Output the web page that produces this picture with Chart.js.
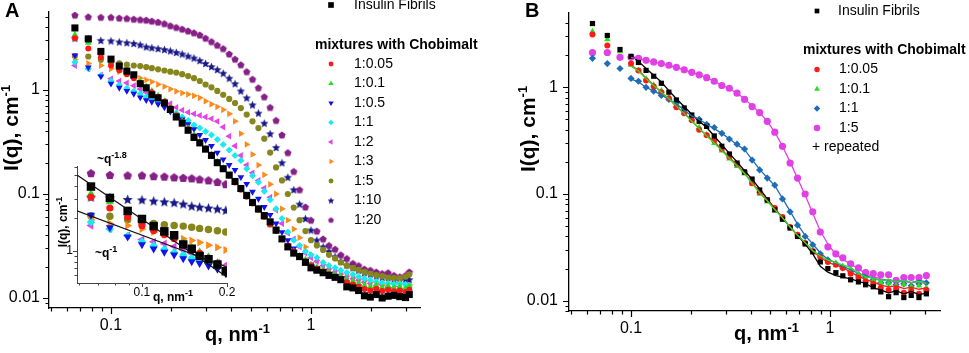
<!DOCTYPE html>
<html>
<head>
<meta charset="utf-8">
<title>SAXS of insulin fibrils and mixtures with Chobimalt</title>
<script src="https://cdn.jsdelivr.net/npm/chart.js@4.4.1/dist/chart.umd.min.js"></script>
<style>
  html, body { margin: 0; padding: 0; background: #ffffff; }
  body { width: 969px; height: 353px; position: relative; overflow: hidden; }
  canvas { position: absolute; left: 0; top: 0; }
</style>
</head>
<body>
<canvas id="chartA" width="969" height="353"></canvas>
<canvas id="chartInset" width="969" height="353"></canvas>
<canvas id="chartB" width="969" height="353"></canvas>
<script>
// ---------------- DATA: panel A (q in nm^-1, I(q) in cm^-1) ----------------
const Q_A = [0.066,0.077,0.089,0.1,0.11,0.12,0.13,0.14,0.15,0.16,
  0.172,0.185,0.198,0.212,0.227,0.243,0.26,0.278,0.297,0.318,
  0.34,0.364,0.39,0.417,0.446,0.477,0.51,0.546,0.584,0.625,
  0.669,0.716,0.766,0.82,0.877,0.938,1.0,1.07,1.15,1.23,
  1.32,1.41,1.51,1.62,1.73,1.85,1.98,2.12,2.27,2.43,
  2.6,2.78,2.97,3.1];
const A_FIBRILS = [3.95,3.1,2.35,1.98,1.7,1.52,1.4,1.15,1.05,0.9,
  0.84,0.75,0.65,0.55,0.48,0.41,0.35,0.31,0.27,0.235,
  0.2,0.175,0.152,0.132,0.113,0.097,0.083,0.072,0.062,0.054,
  0.045,0.037,0.031,0.027,0.025,0.022,0.0195,0.0185,0.0175,0.0165,
  0.0158,0.015,0.0128,0.0125,0.0118,0.0105,0.0102,0.0108,0.01,0.0104,
  0.0106,0.0103,0.0101,0.0108];
const A_R0_05 = [3.15,2.5,2.06,1.72,1.55,1.42,1.3,1.16,1.05,0.95,
  0.86,0.77,0.67,0.57,0.49,0.42,0.36,0.315,0.272,0.236,
  0.2,0.175,0.15,0.129,0.11,0.094,0.081,0.07,0.06,0.051,
  0.044,0.037,0.032,0.028,0.025,0.0225,0.0205,0.0192,0.018,0.017,
  0.016,0.015,0.0142,0.0135,0.0128,0.0122,0.0118,0.0122,0.0117,0.012,
  0.0116,0.0118,0.0114,0.012];
const A_R0_1 = [3.4,2.85,2.25,1.85,1.6,1.45,1.35,1.2,1.08,0.98,
  0.88,0.78,0.68,0.58,0.5,0.43,0.37,0.32,0.275,0.24,
  0.205,0.178,0.153,0.131,0.11,0.094,0.08,0.069,0.059,0.05,
  0.043,0.036,0.031,0.028,0.0255,0.0235,0.021,0.0198,0.0188,0.0178,
  0.0168,0.016,0.015,0.0145,0.0138,0.0132,0.0128,0.0132,0.0126,0.013,
  0.0125,0.0128,0.0124,0.013];
const A_R0_5 = [2.15,1.65,1.35,1.15,1.05,0.98,0.92,0.85,0.8,0.77,
  0.73,0.68,0.62,0.57,0.52,0.47,0.42,0.37,0.33,0.29,
  0.25,0.215,0.19,0.17,0.145,0.125,0.105,0.09,0.075,0.063,
  0.052,0.043,0.036,0.03,0.026,0.023,0.021,0.0195,0.018,0.017,
  0.0162,0.0152,0.0142,0.0136,0.013,0.0122,0.0118,0.0122,0.0115,0.0118,
  0.0113,0.0116,0.0112,0.0115];
const A_R1 = [1.85,1.6,1.38,1.22,1.12,1.04,0.97,0.92,0.86,0.82,
  0.77,0.72,0.66,0.6,0.55,0.51,0.46,0.43,0.4,0.37,
  0.335,0.3,0.265,0.235,0.21,0.175,0.15,0.13,0.106,0.088,
  0.072,0.058,0.043,0.036,0.032,0.028,0.026,0.0245,0.022,0.0205,
  0.0195,0.0185,0.0176,0.0168,0.016,0.0153,0.0148,0.0143,0.014,0.0138,
  0.0136,0.0137,0.0135,0.0132];
const A_R2 = [1.72,1.6,1.39,1.28,1.22,1.17,1.1,1.02,0.95,0.9,
  0.84,0.78,0.74,0.68,0.64,0.61,0.59,0.57,0.55,0.53,
  0.5,0.44,0.36,0.29,0.235,0.19,0.16,0.135,0.114,0.093,
  0.07,0.052,0.042,0.037,0.031,0.027,0.0245,0.0225,0.0205,0.019,
  0.0178,0.0165,0.016,0.0153,0.0148,0.0142,0.0138,0.0132,0.0134,0.013,
  0.0125,0.0128,0.0122,0.0118];
const A_R3 = [1.95,1.8,1.72,1.6,1.5,1.42,1.36,1.3,1.25,1.2,
  1.13,1.08,1.02,0.97,0.935,0.91,0.88,0.84,0.78,0.73,
  0.69,0.645,0.59,0.5,0.38,0.3,0.24,0.19,0.153,0.124,
  0.1,0.072,0.056,0.046,0.038,0.031,0.026,0.023,0.021,0.019,
  0.0182,0.017,0.0162,0.0156,0.015,0.0146,0.014,0.0137,0.0133,0.0127,
  0.013,0.0135,0.013,0.0134];
const A_R5 = [2.12,2.1,1.95,1.88,1.8,1.75,1.72,1.7,1.66,1.62,
  1.58,1.54,1.5,1.47,1.42,1.36,1.3,1.22,1.13,1.06,
  0.98,0.9,0.82,0.75,0.67,0.58,0.5,0.43,0.34,0.25,
  0.18,0.135,0.1,0.074,0.056,0.044,0.036,0.032,0.029,0.026,
  0.024,0.022,0.0205,0.0195,0.0186,0.0178,0.0172,0.0166,0.0162,0.0157,
  0.0156,0.0155,0.016,0.0168];
const A_R10 = [3.15,3.1,3.0,2.97,2.9,2.85,2.8,2.72,2.6,2.55,
  2.5,2.45,2.38,2.3,2.22,2.12,2.03,1.92,1.8,1.68,
  1.57,1.45,1.3,1.15,0.98,0.84,0.72,0.6,0.48,0.38,
  0.28,0.2,0.145,0.11,0.08,0.058,0.045,0.036,0.031,0.028,
  0.025,0.0225,0.0207,0.0195,0.0185,0.0175,0.017,0.0163,0.0158,0.0156,
  0.015,0.0148,0.0152,0.015];
const A_R20 = [5.25,5.05,5.0,5.0,4.92,4.88,4.8,4.75,4.7,4.6,
  4.5,4.35,4.15,4.0,3.85,3.7,3.55,3.38,3.15,2.92,
  2.7,2.5,2.22,1.98,1.75,1.5,1.27,1.05,0.86,0.68,
  0.51,0.37,0.25,0.165,0.11,0.075,0.056,0.044,0.037,0.032,
  0.0295,0.026,0.024,0.0215,0.0205,0.019,0.0185,0.0178,0.0172,0.0175,
  0.0165,0.016,0.0165,0.0178];

// inset power-law guide lines (end points)
const FIT_Q = [0.0589, 0.2];
const FIT_Q18 = [5.05, 0.574];   // ~q^-1.8
const FIT_Q1 = [2.35, 0.711];    // ~q^-1

// ---------------- DATA: panel B ----------------
const Q_B = [0.064,0.076,0.088,0.1,0.109,0.119,0.13,0.142,0.155,0.169,
  0.185,0.202,0.22,0.24,0.262,0.286,0.312,0.341,0.372,0.406,
  0.443,0.484,0.528,0.577,0.63,0.687,0.75,0.819,0.894,0.976,
  1.07,1.16,1.27,1.39,1.51,1.65,1.8,1.97,2.15,2.35,
  2.56,2.8,3.05];
const B_FIBRILS = [3.96,3.06,2.26,1.95,1.71,1.44,1.27,1.09,0.9,0.76,
  0.64,0.55,0.48,0.43,0.35,0.28,0.237,0.195,0.161,0.138,
  0.109,0.088,0.071,0.058,0.048,0.04,0.034,0.0287,0.0231,0.02,
  0.0183,0.0171,0.0157,0.015,0.0141,0.0135,0.0121,0.0109,0.0119,0.0107,
  0.0112,0.0107,0.0116];
const B_R0_05 = [3.13,2.47,null,1.67,1.44,1.16,1.02,0.9,0.79,0.65,
  0.57,0.49,0.4,0.356,0.318,0.264,0.222,0.19,0.161,0.126,
  0.104,0.088,0.074,0.0608,0.049,0.0414,0.0348,0.0293,0.0258,0.0231,
  0.0217,0.0203,0.0179,0.0165,0.0151,0.0144,0.0132,0.0126,0.0129,0.0119,
  0.0124,0.0116,0.0126];
const B_R0_1 = [3.33,2.81,2.17,1.62,1.45,1.2,1.05,0.93,0.8,0.68,
  0.58,0.5,0.42,0.36,0.3,0.255,0.215,0.182,0.155,0.125,
  0.1,0.085,0.07,0.06,0.049,0.041,0.035,0.0295,0.026,0.0235,
  0.0225,0.021,0.0195,0.0175,0.016,0.0155,0.0148,0.0145,0.0138,0.0142,
  0.0135,0.0138,0.0132];
const B_R1 = [1.87,1.67,1.5,1.21,1.14,1.0,0.92,0.84,0.77,0.71,
  0.6,0.525,0.502,0.45,0.42,0.37,0.327,0.293,0.264,0.208,
  0.168,0.141,0.121,0.09,0.068,0.051,0.04,0.0334,0.0275,0.0241,
  0.0222,0.0203,0.0187,0.0175,0.0168,0.0157,0.0147,0.0147,0.0141,0.0144,
  0.0138,0.0144,0.0147];
const B_R5 = [2.12,2.12,1.91,1.91,1.87,1.79,1.73,1.67,1.61,1.54,
  1.46,1.38,1.31,1.23,1.14,1.04,0.98,0.88,0.77,0.66,
  0.58,0.48,0.38,0.28,0.195,0.141,0.1,0.068,0.044,0.032,
  0.0275,0.0252,0.0222,0.0203,0.0183,0.0179,0.0175,0.0175,0.0155,0.0165,
  0.0165,0.0165,0.0172];
// repeated measurements (drawn as lines)
const B_REP_FIBRILS = [null,null,null,2.0,1.75,1.5,1.3,1.12,0.93,0.78,
  0.66,0.56,0.48,0.42,0.35,0.29,0.24,0.2,0.165,0.138,
  0.112,0.09,0.073,0.06,0.049,0.041,0.034,0.0275,0.021,0.0185,
  0.0172,0.0166,0.016,0.0152,0.0145,0.0132,0.0126,0.0118,0.0124,0.0116,
  0.0122,0.0114,0.0118];
const B_REP_R0_05 = [null,null,null,1.6,1.45,1.22,1.05,0.9,0.78,0.66,
  0.57,0.49,0.41,0.355,0.31,0.26,0.22,0.188,0.158,0.128,
  0.105,0.087,0.073,0.06,0.049,0.041,0.035,0.029,0.0255,0.0228,
  0.0215,0.0205,0.0185,0.017,0.0158,0.015,0.014,0.0135,0.0138,0.013,
  0.0134,0.0128,0.0132];
const B_REP_R0_1 = [null,null,null,1.58,1.42,1.2,1.04,0.9,0.78,0.67,
  0.57,0.48,0.41,0.35,0.3,0.255,0.215,0.183,0.155,0.126,
  0.102,0.086,0.071,0.06,0.049,0.041,0.035,0.0295,0.0262,0.024,
  0.0228,0.0215,0.0205,0.018,0.0168,0.0162,0.0155,0.0158,0.015,0.0155,
  0.0148,0.0152,0.0145];
const B_REP_R1 = [null,null,null,1.2,1.12,1.0,0.92,0.85,0.77,0.7,
  0.61,0.54,0.5,0.45,0.41,0.37,0.33,0.29,0.26,0.21,
  0.17,0.142,0.12,0.091,0.069,0.052,0.041,0.034,0.028,0.0245,
  0.0225,0.021,0.0195,0.018,0.0172,0.0162,0.0155,0.0158,0.015,0.0156,
  0.0148,0.0155,0.015];
const B_REP_R5 = [null,null,null,1.9,1.86,1.8,1.73,1.66,1.6,1.53,
  1.46,1.38,1.31,1.23,1.14,1.05,0.97,0.88,0.78,0.67,
  0.58,0.48,0.38,0.28,0.2,0.14,0.098,0.066,0.045,0.034,
  0.027,0.0245,0.022,0.02,0.0178,0.0168,0.016,0.0155,0.015,0.0152,
  0.0147,0.015,0.0145];

// tick labels
const A_X_TICKS = [0.1, 1];
const A_Y_TICKS = [0.01, 0.1, 1];
const INSET_X_TICKS = [0.1, 0.2];
const INSET_Y_TICKS = [1];
const B_X_TICKS = [0.1, 1];
const B_Y_TICKS = [0.01, 0.1, 1];

// ---------------- helpers ----------------
const FF = "'Liberation Sans', Arial, Helvetica, sans-serif";
Chart.defaults.font.family = FF;
Chart.defaults.color = '#000';

const pairs = (q, v) => q.map((x, i) => ({ x: x, y: v[i] })).filter(p => p.y !== null && p.y !== undefined);

function makeShape(color, r, kind) {
  const s = Math.ceil(r * 2) + 2;
  const c = document.createElement('canvas');
  c.width = s; c.height = s;
  const g = c.getContext('2d');
  g.fillStyle = color;
  g.beginPath();
  const n = kind === 'star' ? 10 : 5;
  for (let i = 0; i < n; i++) {
    const a = -Math.PI / 2 + i * 2 * Math.PI / n;
    const rr = kind === 'star' ? (i % 2 === 0 ? r : r * 0.45) : r;
    const px = s / 2 + rr * Math.cos(a), py = s / 2 + 0.4 + rr * Math.sin(a);
    if (i === 0) g.moveTo(px, py); else g.lineTo(px, py);
  }
  g.closePath();
  g.fill();
  return c;
}

function styleOf(st, k) {
  return st.shape ? makeShape(st.color, st.r * k, st.shape) : st.pointStyle;
}

function scatterSet(label, q, vals, st, k) {
  return {
    label: label,
    data: pairs(q, vals),
    showLine: false,
    pointStyle: styleOf(st, k),
    pointRadius: st.r * k,
    pointRotation: st.rot || 0,
    pointBackgroundColor: st.color,
    pointBorderColor: st.color,
    pointBorderWidth: 0,
    backgroundColor: st.color,
    borderColor: st.color
  };
}

function lineSet(label, q, vals, color, w) {
  return {
    label: label,
    data: pairs(q, vals),
    showLine: true,
    pointRadius: 0,
    borderColor: color,
    backgroundColor: color,
    borderWidth: w,
    fill: false,
    tension: 0
  };
}

function logScale(axis, min, max, ticks, size, fontSize, padding, bColor, bWidth) {
  return {
    type: 'logarithmic',
    position: axis === 'x' ? 'bottom' : 'left',
    min: min, max: max,
    afterBuildTicks: s => { s.ticks = ticks.map(v => ({ value: v })); },
    afterFit: s => {
      if (axis === 'x') s.height = size; else s.width = size;
      s.paddingTop = 0; s.paddingBottom = 0; s.paddingLeft = 0; s.paddingRight = 0;
    },
    ticks: {
      callback: v => String(v),
      font: { size: fontSize, family: FF },
      color: '#000',
      padding: padding,
      autoSkip: false, maxRotation: 0, minRotation: 0
    },
    grid: { display: false, drawTicks: false },
    border: { display: true, color: bColor, width: bWidth }
  };
}

function drawLogTicks(ctx, scale, pos, axis, majors, majLen, minLen) {
  const lo = Math.floor(Math.log10(scale.min)), hi = Math.ceil(Math.log10(scale.max));
  ctx.beginPath();
  for (let e = lo; e <= hi; e++) {
    for (let m = 1; m <= 9; m++) {
      const v = m * Math.pow(10, e);
      if (v < scale.min * 0.999 || v > scale.max * 1.001) continue;
      const p = Math.round(scale.getPixelForValue(v)) + 0.5;
      const isMaj = majors.some(t => Math.abs(t - v) / t < 1e-6);
      const len = isMaj ? majLen : minLen;
      if (axis === 'x') { ctx.moveTo(p, pos); ctx.lineTo(p, pos + len); }
      else { ctx.moveTo(pos, p); ctx.lineTo(pos - len, p); }
    }
  }
  ctx.stroke();
}

function drawRich(ctx, x, y, parts, align) {
  let w = 0;
  parts.forEach(p => { ctx.font = p.f; p.w = ctx.measureText(p.t).width; w += p.w; });
  let cx = align === 'center' ? x - w / 2 : x;
  ctx.textAlign = 'left';
  ctx.textBaseline = 'alphabetic';
  parts.forEach(p => { ctx.font = p.f; ctx.fillText(p.t, cx, y + (p.dy || 0)); cx += p.w; });
}

function drawRotated(ctx, bx, cy, parts) {
  ctx.save();
  ctx.translate(bx, cy);
  ctx.rotate(-Math.PI / 2);
  drawRich(ctx, 0, 0, parts, 'center');
  ctx.restore();
}

function legendMarker(ctx, st, k, x, y) {
  ctx.fillStyle = st.color;
  ctx.strokeStyle = st.color;
  const opts = { pointStyle: styleOf(st, k), radius: st.r * k, rotation: st.rot || 0, borderWidth: 0 };
  if (Chart.helpers && Chart.helpers.drawPoint) {
    Chart.helpers.drawPoint(ctx, opts, x, y);
  } else {
    ctx.beginPath(); ctx.arc(x, y, st.r * k, 0, 2 * Math.PI); ctx.fill();
  }
}

// ---------------- series styles ----------------
const A_SERIES = [
  { label: 'Insulin Fibrils', values: A_FIBRILS, color: '#000000', pointStyle: 'rect', r: 5 },
  { label: '1:0.05', values: A_R0_05, color: '#ff1717', pointStyle: 'circle', r: 3 },
  { label: '1:0.1', values: A_R0_1, color: '#20e420', pointStyle: 'triangle', r: 3.9 },
  { label: '1:0.5', values: A_R0_5, color: '#1212ee', pointStyle: 'triangle', rot: 180, r: 3.9 },
  { label: '1:1', values: A_R1, color: '#14ecf0', pointStyle: 'rectRot', r: 3.5 },
  { label: '1:2', values: A_R2, color: '#e345e6', pointStyle: 'triangle', rot: 270, r: 3.9 },
  { label: '1:3', values: A_R3, color: '#ff8a1c', pointStyle: 'triangle', rot: 90, r: 3.9 },
  { label: '1:5', values: A_R5, color: '#86861c', pointStyle: 'circle', r: 3.1 },
  { label: '1:10', values: A_R10, color: '#181888', shape: 'star', r: 4.4 },
  { label: '1:20', values: A_R20, color: '#861f86', shape: 'penta', r: 3.8 }
];

const B_SERIES = [
  { label: 'Insulin Fibrils', values: B_FIBRILS, rep: B_REP_FIBRILS, color: '#000000', pointStyle: 'rect', r: 3.7 },
  { label: '1:0.05', values: B_R0_05, rep: B_REP_R0_05, color: '#ff1a1a', pointStyle: 'circle', r: 3 },
  { label: '1:0.1', values: B_R0_1, rep: B_REP_R0_1, color: '#22e322', pointStyle: 'triangle', r: 3.7 },
  { label: '1:1', values: B_R1, rep: B_REP_R1, color: '#1f6db6', pointStyle: 'rectRot', r: 3.6 },
  { label: '1:5', values: B_R5, rep: B_REP_R5, color: '#e040e6', pointStyle: 'circle', r: 3.6 }
];

const common = {
  responsive: false,
  devicePixelRatio: 1,
  animation: false,
  events: [],
  plugins: { legend: { display: false }, tooltip: { enabled: false }, title: { display: false } }
};

// ---------------- Panel A ----------------
const decorA = {
  id: 'decorA',
  afterDraw(chart) {
    const ctx = chart.ctx, ca = chart.chartArea, x = chart.scales.x, y = chart.scales.y;
    ctx.save();
    ctx.strokeStyle = '#000'; ctx.lineWidth = 1.2;
    drawLogTicks(ctx, x, ca.bottom, 'x', A_X_TICKS, 6, 3.5);
    drawLogTicks(ctx, y, ca.left, 'y', A_Y_TICKS, 6, 3.5);
    ctx.fillStyle = '#000';
    drawRotated(ctx, 18, 128, [{ t: 'I(q), cm', f: 'bold 21px ' + FF }, { t: '-1', f: 'bold 13px ' + FF, dy: -8 }]);
    drawRich(ctx, 237.5, 341, [{ t: 'q, nm', f: 'bold 20px ' + FF }, { t: '-1', f: 'bold 13px ' + FF, dy: -8 }], 'center');
    drawRich(ctx, 5, 17, [{ t: 'A', f: 'bold 20px ' + FF }], 'left');
    // legend
    ctx.textAlign = 'left'; ctx.textBaseline = 'middle';
    legendMarker(ctx, A_SERIES[0], 0.8, 331, 5);
    ctx.fillStyle = '#000'; ctx.font = '14px ' + FF; ctx.textBaseline = 'middle';
    ctx.fillText(A_SERIES[0].label, 354, 5.5);
    ctx.font = 'bold 14px ' + FF;
    ctx.fillText('mixtures with Chobimalt', 315, 45);
    for (let i = 1; i < A_SERIES.length; i++) {
      const yy = 64 + (i - 1) * 19.5;
      legendMarker(ctx, A_SERIES[i], 0.8, 331, yy);
      ctx.fillStyle = '#000'; ctx.font = '14px ' + FF; ctx.textAlign = 'left'; ctx.textBaseline = 'middle';
      ctx.fillText(A_SERIES[i].label, 354, yy);
    }
    ctx.restore();
  }
};

new Chart(document.getElementById('chartA'), {
  type: 'scatter',
  data: { datasets: A_SERIES.map(s => scatterSet(s.label, Q_A, s.values, s, 1)) },
  options: Object.assign({}, common, {
    layout: { padding: { left: 0, top: 12, right: 549, bottom: 0 } },
    scales: {
      x: logScale('x', 0.04898, 3.508, A_X_TICKS, 45, 16, 8, '#000', 1.3),
      y: logScale('y', 0.008014, 5.623, A_Y_TICKS, 49, 16, 9, '#000', 1.3)
    }
  }),
  plugins: [decorA]
});

// ---------------- Inset of panel A ----------------
const decorI = {
  id: 'decorI',
  afterDraw(chart) {
    const ctx = chart.ctx, ca = chart.chartArea, x = chart.scales.x, y = chart.scales.y;
    ctx.save();
    ctx.strokeStyle = '#444'; ctx.lineWidth = 1;
    drawLogTicks(ctx, x, ca.bottom, 'x', INSET_X_TICKS, 4, 2.5);
    drawLogTicks(ctx, y, ca.left, 'y', INSET_Y_TICKS, 4, 2.5);
    ctx.fillStyle = '#000';
    drawRotated(ctx, 67, 222, [{ t: 'I(q), cm', f: 'bold 12px ' + FF }, { t: '-1', f: 'bold 9px ' + FF, dy: -5 }]);
    drawRich(ctx, 173, 301, [{ t: 'q, nm', f: 'bold 12px ' + FF }, { t: '-1', f: 'bold 9px ' + FF, dy: -5 }], 'center');
    drawRich(ctx, 97, 163, [{ t: '~q', f: 'bold 12px ' + FF }, { t: '-1.8', f: 'bold 9px ' + FF, dy: -5 }], 'left');
    drawRich(ctx, 95, 257, [{ t: '~q', f: 'bold 12px ' + FF }, { t: '-1', f: 'bold 9px ' + FF, dy: -5 }], 'left');
    ctx.restore();
  }
};

new Chart(document.getElementById('chartInset'), {
  type: 'scatter',
  data: {
    datasets: [
      lineSet('~q^-1.8', FIT_Q, FIT_Q18, '#111', 1.2),
      lineSet('~q^-1', FIT_Q, FIT_Q1, '#111', 1.2)
    ].concat(A_SERIES.map(s => scatterSet(s.label, Q_A, s.values, s, 1.2)))
  },
  options: Object.assign({}, common, {
    layout: { padding: { left: 57, top: 166, right: 742, bottom: 45 } },
    scales: {
      x: logScale('x', 0.0589, 0.2, INSET_X_TICKS, 25, 12, 2, '#444', 1),
      y: logScale('y', 0.506, 6.12, INSET_Y_TICKS, 20, 12, 4, '#444', 1)
    }
  }),
  plugins: [decorI]
});

// ---------------- Panel B ----------------
const decorB = {
  id: 'decorB',
  afterDraw(chart) {
    const ctx = chart.ctx, ca = chart.chartArea, x = chart.scales.x, y = chart.scales.y;
    ctx.save();
    ctx.strokeStyle = '#000'; ctx.lineWidth = 1.2;
    drawLogTicks(ctx, x, ca.bottom, 'x', B_X_TICKS, 6, 3.5);
    drawLogTicks(ctx, y, ca.left, 'y', B_Y_TICKS, 6, 3.5);
    ctx.fillStyle = '#000';
    drawRotated(ctx, 535, 129, [{ t: 'I(q), cm', f: 'bold 21px ' + FF }, { t: '-1', f: 'bold 13px ' + FF, dy: -8 }]);
    drawRich(ctx, 766.5, 340, [{ t: 'q, nm', f: 'bold 20px ' + FF }, { t: '-1', f: 'bold 13px ' + FF, dy: -8 }], 'center');
    drawRich(ctx, 525, 17, [{ t: 'B', f: 'bold 20px ' + FF }], 'left');
    // legend
    legendMarker(ctx, B_SERIES[0], 0.9, 817, 11);
    ctx.fillStyle = '#000'; ctx.font = '14px ' + FF; ctx.textAlign = 'left'; ctx.textBaseline = 'middle';
    ctx.fillText(B_SERIES[0].label, 838, 11);
    ctx.font = 'bold 14px ' + FF;
    ctx.fillText('mixtures with Chobimalt', 803, 50);
    for (let i = 1; i < B_SERIES.length; i++) {
      const yy = 69.5 + (i - 1) * 19.5;
      legendMarker(ctx, B_SERIES[i], 0.9, 817, yy);
      ctx.fillStyle = '#000'; ctx.font = '14px ' + FF; ctx.textAlign = 'left'; ctx.textBaseline = 'middle';
      ctx.fillText(B_SERIES[i].label, 839, yy);
    }
    ctx.fillStyle = '#000'; ctx.font = '14px ' + FF; ctx.textAlign = 'left'; ctx.textBaseline = 'middle';
    ctx.fillText('+ repeated', 812, 147);
    ctx.restore();
  }
};

const lineOrder = [2, 3, 1, 4, 0];
const bLines = lineOrder.map(i => lineSet(B_SERIES[i].label + ' repeated', Q_B, B_SERIES[i].rep, B_SERIES[i].color, 1.3));
const bMarks = B_SERIES.map(s => scatterSet(s.label, Q_B, s.values, s, 1));

new Chart(document.getElementById('chartB'), {
  type: 'scatter',
  data: { datasets: bLines.concat(bMarks) },
  options: Object.assign({}, common, {
    layout: { padding: { left: 519, top: 13, right: 29, bottom: 0 } },
    scales: {
      x: logScale('x', 0.04878, 3.572, B_X_TICKS, 42, 16, 8, '#000', 1.3),
      y: logScale('y', 0.008006, 4.97, B_Y_TICKS, 50, 16, 11, '#000', 1.3)
    }
  }),
  plugins: [decorB]
});
</script>
</body>
</html>
